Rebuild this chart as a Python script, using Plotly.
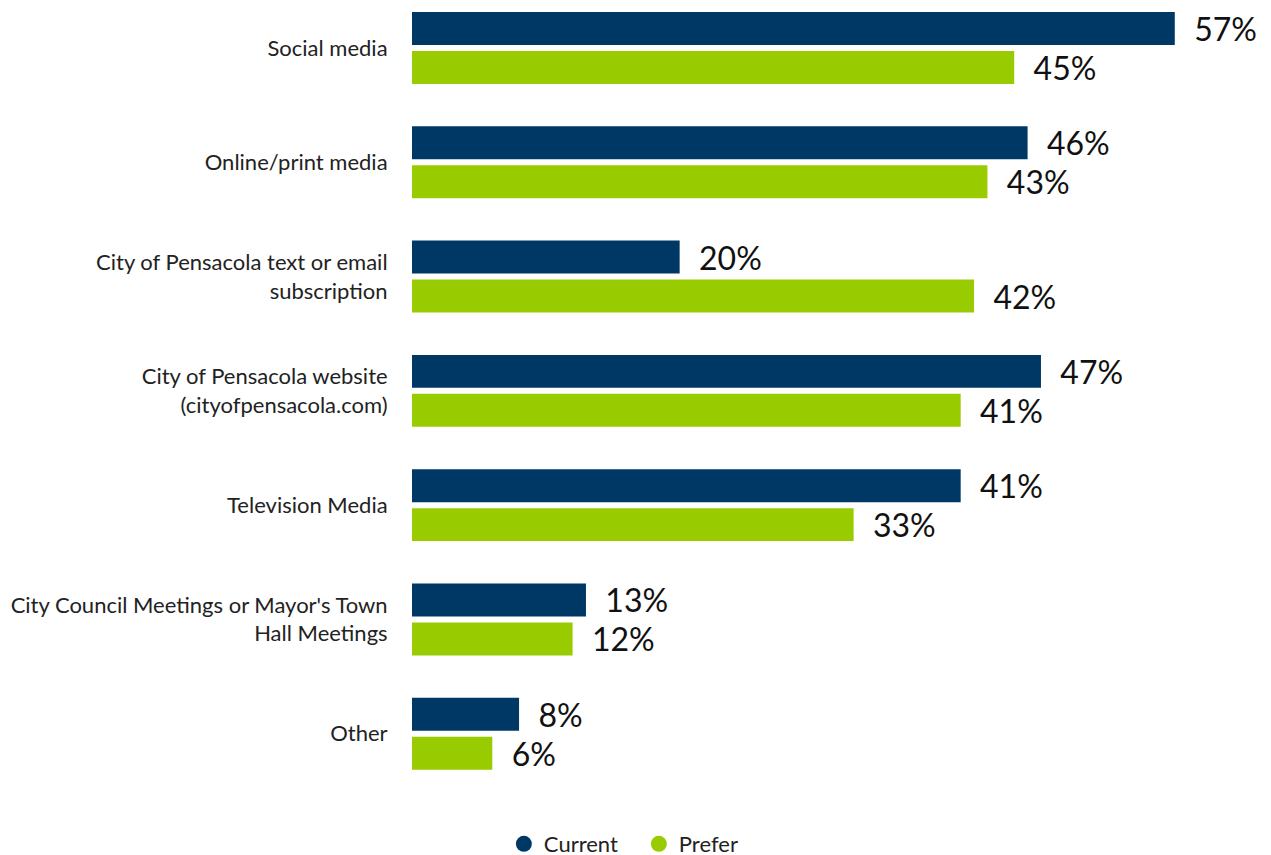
import plotly.graph_objects as go

categories = [
    "Social media",
    "Online/print media",
    "City of Pensacola text or email<br>subscription",
    "City of Pensacola website<br>(cityofpensacola.com)",
    "Television Media",
    "City Council Meetings or Mayor's Town<br>Hall Meetings",
    "Other",
]
current = [57, 46, 20, 47, 41, 13, 8]
prefer = [45, 43, 42, 41, 33, 12, 6]

NAVY = "#003865"
GREEN = "#99CC00"
FONT = "Lato, 'Open Sans', sans-serif"

fig = go.Figure()
for name, vals, color in [("Current", current, NAVY), ("Prefer", prefer, GREEN)]:
    fig.add_trace(go.Bar(
        name=name,
        y=categories,
        x=vals,
        orientation="h",
        marker=dict(color=color, line=dict(width=0)),
        text=[f"  {v}%" for v in vals],
        textposition="outside",
        constraintext="none",
        cliponaxis=False,
        textfont=dict(family=FONT, size=32, color="#111111"),
        showlegend=False,
    ))

# round legend markers
for name, color in [("Current", NAVY), ("Prefer", GREEN)]:
    fig.add_trace(go.Scatter(
        name=name,
        x=[None],
        y=[None],
        mode="markers",
        marker=dict(symbol="circle", size=18, color=color),
        showlegend=True,
    ))

fig.update_layout(
    width=1271,
    height=855,
    barmode="group",
    bargap=0.318,
    bargroupgap=0.154,
    plot_bgcolor="white",
    paper_bgcolor="white",
    margin=dict(l=412, r=40, t=0, b=55, autoexpand=False),
    font=dict(family=FONT, size=22, color="#222222"),
    xaxis=dict(range=[0, 61.2], visible=False),
    yaxis=dict(
        range=[6.58, -0.42],
        showgrid=False,
        showline=False,
        ticks="outside",
        ticklen=19,
        tickcolor="rgba(0,0,0,0)",
        tickfont=dict(family=FONT, size=22, color="#222222"),
    ),
    legend=dict(
        orientation="h",
        xref="paper",
        x=0.277,
        xanchor="center",
        yref="paper",
        y=-0.055,
        yanchor="middle",
        font=dict(family=FONT, size=22, color="#222222"),
        itemsizing="trace",
        entrywidth=90,
    ),
    showlegend=True,
)

fig.write_html("out.html")
